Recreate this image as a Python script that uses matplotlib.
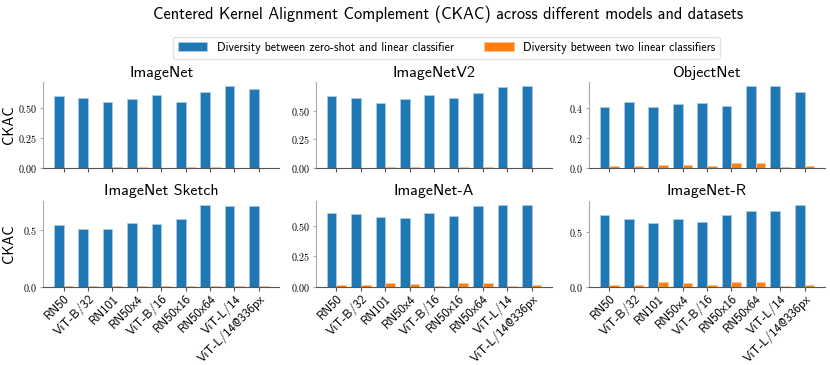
import matplotlib
matplotlib.use("Agg")
import matplotlib.pyplot as plt
from matplotlib.ticker import MaxNLocator
import numpy as np

models = ["RN50", "ViT-B/32", "RN101", "RN50x4", "ViT-B/16", "RN50x16",
          "RN50x64", "ViT-L/14", "ViT-L/14@336px"]
datasets = ["ImageNet", "ImageNetV2", "ObjectNet",
            "ImageNet Sketch", "ImageNet-A", "ImageNet-R"]

# diversity between zero-shot and linear classifier
zs_lin = {
    "ImageNet":        [0.598, 0.587, 0.553, 0.575, 0.609, 0.550, 0.634, 0.682, 0.662],
    "ImageNetV2":      [0.626, 0.614, 0.570, 0.602, 0.635, 0.608, 0.658, 0.708, 0.713],
    "ObjectNet":       [0.407, 0.443, 0.411, 0.427, 0.436, 0.416, 0.548, 0.548, 0.508],
    "ImageNet Sketch": [0.548, 0.515, 0.512, 0.569, 0.560, 0.605, 0.729, 0.717, 0.717],
    "ImageNet-A":      [0.612, 0.604, 0.579, 0.573, 0.610, 0.584, 0.669, 0.680, 0.674],
    "ImageNet-R":      [0.654, 0.617, 0.580, 0.617, 0.593, 0.651, 0.688, 0.694, 0.747],
}
# diversity between two linear classifiers
lin_lin = {
    "ImageNet":        [0.001, 0.001, 0.005, 0.005, 0.001, 0.005, 0.005, 0.001, 0.001],
    "ImageNetV2":      [0.001, 0.001, 0.005, 0.005, 0.001, 0.005, 0.005, 0.001, 0.001],
    "ObjectNet":       [0.011, 0.011, 0.022, 0.022, 0.011, 0.031, 0.034, 0.009, 0.011],
    "ImageNet Sketch": [0.001, 0.001, 0.003, 0.003, 0.001, 0.004, 0.003, 0.001, 0.001],
    "ImageNet-A":      [0.011, 0.011, 0.028, 0.025, 0.008, 0.031, 0.031, 0.001, 0.011],
    "ImageNet-R":      [0.012, 0.012, 0.037, 0.034, 0.012, 0.037, 0.037, 0.006, 0.012],
}

plt.rcParams["font.family"] = ["cmss10", "DejaVu Sans"]
plt.rcParams["axes.formatter.use_mathtext"] = True
plt.rcParams["axes.unicode_minus"] = False

blue = "#1f77b4"
orange = "#ff7f0e"
w = 0.4
x = np.arange(len(models))

fig, axes = plt.subplots(2, 3, figsize=(8.3, 3.65), dpi=100)
fig.subplots_adjust(left=0.052, right=0.994, top=0.775, bottom=0.215,
                    wspace=0.155, hspace=0.38)

for ax, name in zip(axes.flat, datasets):
    b1 = ax.bar(x - w / 2, zs_lin[name], w, color=blue, edgecolor="#a9cbe6",
                linewidth=0.6)
    b2 = ax.bar(x + w / 2, lin_lin[name], w, color=orange, edgecolor="#ffc28f",
                linewidth=0.6)
    ax.set_title(name, fontsize=11.5, pad=4)
    ax.set_xticks(x)
    ax.yaxis.set_major_locator(MaxNLocator(nbins=3, steps=[1, 2, 2.5, 5, 10]))
    for s in ["top", "right"]:
        ax.spines[s].set_visible(False)
    ax.spines["left"].set_color("#aaaaaa")
    ax.spines["bottom"].set_color("#555555")
    ax.tick_params(axis="y", length=2.5, color="#aaaaaa", labelsize=7.2, pad=1.5)
    ax.tick_params(axis="x", length=3, color="#555555", labelsize=9.1, pad=1.5)
    for lab in ax.get_yticklabels():
        lab.set_fontfamily("cmr10")

for ax in axes[0]:
    ax.set_xticklabels([])
for ax in axes[1]:
    ax.set_xticklabels(models, rotation=45, ha="right", rotation_mode="anchor")
for ax in axes[:, 0]:
    ax.set_ylabel("CKAC", fontsize=10.5)
    ax.yaxis.set_label_coords(-0.115, 0.5)

fig.suptitle("Centered Kernel Alignment Complement (CKAC) across different models and datasets",
             fontsize=11.8, x=0.54, y=0.985)
fig.legend([b1, b2], ["Diversity between zero-shot and linear classifier",
                      "Diversity between two linear classifiers"],
           loc="upper center", bbox_to_anchor=(0.538, 0.915), ncol=2, fontsize=8.6,
           frameon=True, edgecolor="#dddddd", handlelength=2.5, columnspacing=2.5)

fig.savefig("out.png", dpi=100)
